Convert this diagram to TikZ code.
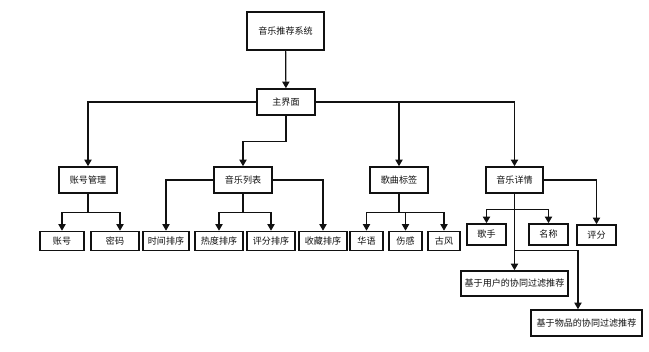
\documentclass[tikz,border=0pt]{standalone}
\usepackage{fontspec}
\setmainfont{Noto Sans CJK SC}
\usetikzlibrary{arrows.meta}
\definecolor{Ink}{HTML}{111111}

\begin{document}
\begin{tikzpicture}[x=.75pt,y=-.75pt,
  box/.style={draw=Ink,line width=1.2pt,fill=white,inner sep=0pt,text=Ink,
    font=\fontsize{6.8pt}{8pt}\selectfont},
  arr/.style={draw=Ink,line width=.9pt,-{Triangle[width=5.5pt,length=5pt]}}]
\useasboundingbox[fill=white] (0,0) rectangle (649,351);
\node[box,minimum width=77*.75pt,minimum height=38*.75pt] (sys) at (285.5,31) {音乐推荐系统};
\node[box,minimum width=58*.75pt,minimum height=26*.75pt] (main) at (286,102) {主界面};
\node[box,minimum width=58*.75pt,minimum height=26*.75pt] (acct) at (88,180) {账号管理};
\node[box,minimum width=58*.75pt,minimum height=26*.75pt] (list) at (243,180) {音乐列表};
\node[box,minimum width=58*.75pt,minimum height=26*.75pt] (tag) at (399,180) {歌曲标签};
\node[box,minimum width=57*.75pt,minimum height=26*.75pt] (detail) at (514.5,180) {音乐详情};
\node[box,minimum width=44*.75pt,minimum height=19*.75pt] (uid) at (62,241) {账号};
\node[box,minimum width=48*.75pt,minimum height=19*.75pt] (pwd) at (115,241) {密码};
\node[box,minimum width=46*.75pt,minimum height=19*.75pt] (bytime) at (166,241) {时间排序};
\node[box,minimum width=48*.75pt,minimum height=19*.75pt] (byheat) at (219,241) {热度排序};
\node[box,minimum width=48*.75pt,minimum height=19*.75pt] (byscore) at (271,241) {评分排序};
\node[box,minimum width=48*.75pt,minimum height=19*.75pt] (byfav) at (323,241) {收藏排序};
\node[box,minimum width=33*.75pt,minimum height=19*.75pt] (mando) at (366.5,241) {华语};
\node[box,minimum width=33*.75pt,minimum height=19*.75pt] (sad) at (405.5,241) {伤感};
\node[box,minimum width=32*.75pt,minimum height=19*.75pt] (antique) at (444,241) {古风};
\node[box,minimum width=39*.75pt,minimum height=21*.75pt] (singer) at (486.5,234.5) {歌手};
\node[box,minimum width=39*.75pt,minimum height=21*.75pt] (title) at (548.5,234.5) {名称};
\node[box,minimum width=39*.75pt,minimum height=20*.75pt] (rating) at (596.5,235) {评分};
\node[box,minimum width=107*.75pt,minimum height=25*.75pt] (usercf) at (514.5,283.5) {基于用户的协同过滤推荐};
\node[box,minimum width=111*.75pt,minimum height=26*.75pt] (itemcf) at (586.5,323) {基于物品的协同过滤推荐};
\draw[arr] (sys) -- (main);
\draw[arr] (main.west) -| (acct.north);
\draw[arr] (main.south) -- ++(0,26) -| (list.north);
\draw[arr] (main.east) -| (tag.north);
\draw[arr] (main.east) -| (detail.north);
\draw[arr] (acct.south) -- ++(0,19) -| (uid.north);
\draw[arr] (acct.south) -- ++(0,19) -| ([xshift=3.75pt]pwd.north);
\draw[arr] (list.west) -| (bytime.north);
\draw[arr] (list.south) -- ++(0,19) -| (byheat.north);
\draw[arr] (list.south) -- ++(0,19) -| (byscore.north);
\draw[arr] (list.east) -| (byfav.north);
\draw[arr] (tag.south) -- ++(0,19) -| (mando.north);
\draw[arr] (tag.south) -- ++(0,19) -| (sad.north);
\draw[arr] (tag.south) -- ++(0,19) -| (antique.north);
\draw[arr] (detail.south) -- ++(0,16) -| (singer.north);
\draw[arr] (detail.south) -- ++(0,16) -| (title.north);
\draw[arr] (detail.east) -| (rating.north);
\draw[arr] (detail.south) -- (usercf.north);
\draw[arr] (detail.south) -- ++(0,57) -| ([xshift=-6.4pt]itemcf.north);
\end{tikzpicture}
\end{document}
